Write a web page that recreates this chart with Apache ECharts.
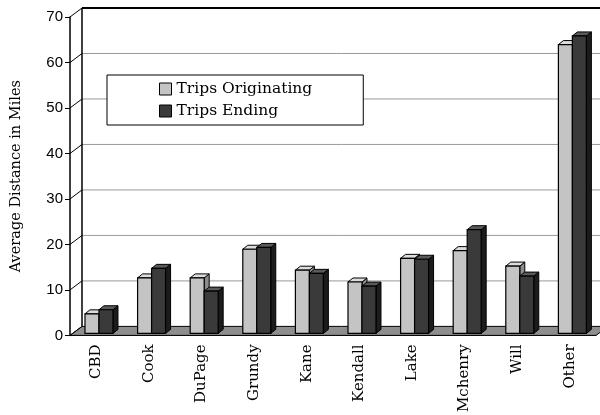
<!DOCTYPE html>
<html><head><meta charset="utf-8">
<script src="https://cdn.jsdelivr.net/npm/echarts@6/dist/echarts.min.js"></script>
<style>html,body{margin:0;padding:0;background:#fff}#c{width:600px;height:415px}</style>
</head><body><div id="c"></div>
<script>
const categories = ['CBD','Cook','DuPage','Grundy','Kane','Kendall','Lake','Mchenry','Will','Other'];
const originating = [4.3,12.2,12.2,18.5,13.9,11.3,16.5,18.2,14.8,63.5];
const ending = [5.2,14.3,9.3,18.9,13.2,10.4,16.3,22.8,12.6,65.4];
const yTicks = [0,10,20,30,40,50,60,70];

const DX = 12, DY = -9;
function frameRender(params, api) {
  const band = api.size([1,0])[0];
  const x0 = api.coord([0,0])[0] - band/2;
  const x1 = x0 + band*categories.length;
  const y = v => api.coord([0,v])[1];
  const ch = [];
  ch.push({type:'polygon', shape:{points:[[x0,y(0)],[x1,y(0)],[x1+DX,y(0)+DY],[x0+DX,y(0)+DY]]}, style:{fill:'#8e8e8e', stroke:'#000', lineWidth:1}});
  yTicks.forEach(v => {
    if (v>0 && v<70) ch.push({type:'line', shape:{x1:x0+DX,y1:y(v)+DY,x2:x1+DX,y2:y(v)+DY}, style:{stroke:'#999', lineWidth:1}});
    ch.push({type:'line', shape:{x1:x0,y1:y(v),x2:x0+DX,y2:y(v)+DY}, style:{stroke:'#000', lineWidth:1}});
  });
  ch.push({type:'line', shape:{x1:x0+DX,y1:y(0)+DY,x2:x0+DX,y2:y(70)+DY}, style:{stroke:'#000', lineWidth:1.5}});
  ch.push({type:'line', shape:{x1:x0+DX,y1:y(70)+DY,x2:x1+DX,y2:y(70)+DY}, style:{stroke:'#000', lineWidth:2}});
  return {type:'group', children:ch};
}
function makeBar(offsetFrac, front, top, side) {
  return function(params, api) {
    const i = api.value(0), v = api.value(1);
    const band = api.size([1,0])[0];
    const cx = api.coord([i,0])[0];
    const x0 = cx - band/2 + offsetFrac*band;
    const w = 0.266*band;
    const yb = api.coord([i,0])[1] - 2;
    const yt = api.coord([i,v])[1] - 2;
    const dx = 5, dy = -4;
    return {type:'group', children:[
      {type:'polygon', shape:{points:[[x0+w,yb],[x0+w+dx,yb+dy],[x0+w+dx,yt+dy],[x0+w,yt]]}, style:{fill:side, stroke:'#000', lineWidth:1}},
      {type:'polygon', shape:{points:[[x0,yt],[x0+dx,yt+dy],[x0+w+dx,yt+dy],[x0+w,yt]]}, style:{fill:top, stroke:'#000', lineWidth:1}},
      {type:'rect', shape:{x:x0,y:yt,width:w,height:yb-yt}, style:{fill:front, stroke:'#000', lineWidth:1.2}}
    ]};
  };
}
const chart = echarts.init(document.getElementById('c'), null, {renderer:'canvas'});
chart.setOption({
  animation:false,
  backgroundColor:'#fff',
  grid:{left:70, right:4, top:17, bottom:76},
  legend:{
    left:107, top:75, orient:'vertical', backgroundColor:'#fff',
    borderColor:'#000', borderWidth:1, padding:[6,51,6,52], itemGap:6,
    itemWidth:12, itemHeight:12, icon:'rect',
    textStyle:{fontFamily:'DejaVu Serif', fontSize:15.5, color:'#000'},
    data:[
      {name:'Trips Originating', itemStyle:{color:'#c4c4c4', borderColor:'#000', borderWidth:1}},
      {name:'Trips Ending', itemStyle:{color:'#3a3a3a', borderColor:'#000', borderWidth:1}}
    ]
  },
  xAxis:{
    type:'category', data:categories, boundaryGap:true,
    axisLine:{lineStyle:{color:'#000', width:1}},
    axisTick:{length:5, lineStyle:{color:'#000'}},
    axisLabel:{rotate:90, margin:9, color:'#000', fontFamily:'DejaVu Serif', fontSize:15, interval:0}
  },
  yAxis:{
    type:'value', min:0, max:70, interval:10,
    name:'Average Distance in Miles', nameLocation:'middle', nameGap:46,
    nameTextStyle:{fontFamily:'DejaVu Serif', fontSize:14.5, color:'#000'},
    axisLine:{show:true, lineStyle:{color:'#000', width:1.5}},
    axisTick:{show:true, length:5, lineStyle:{color:'#000'}},
    axisLabel:{margin:7, color:'#000', fontFamily:'Liberation Sans', fontSize:15},
    splitLine:{show:false}
  },
  series:[
    {type:'custom', name:'frame', z:1, silent:true, renderItem:frameRender, data:[[0,0]], encode:{x:0,y:1}},
    {type:'custom', name:'Trips Originating', z:3, renderItem:makeBar(0.285,'#c4c4c4','#dcdcdc','#8c8c8c'),
      itemStyle:{color:'#c4c4c4'}, data:originating.map((v,i)=>[i,v]), encode:{x:0,y:1}},
    {type:'custom', name:'Trips Ending', z:4, renderItem:makeBar(0.551,'#3a3a3a','#5a5a5a','#1c1c1c'),
      itemStyle:{color:'#3a3a3a'}, data:ending.map((v,i)=>[i,v]), encode:{x:0,y:1}}
  ]
});
</script></body></html>
